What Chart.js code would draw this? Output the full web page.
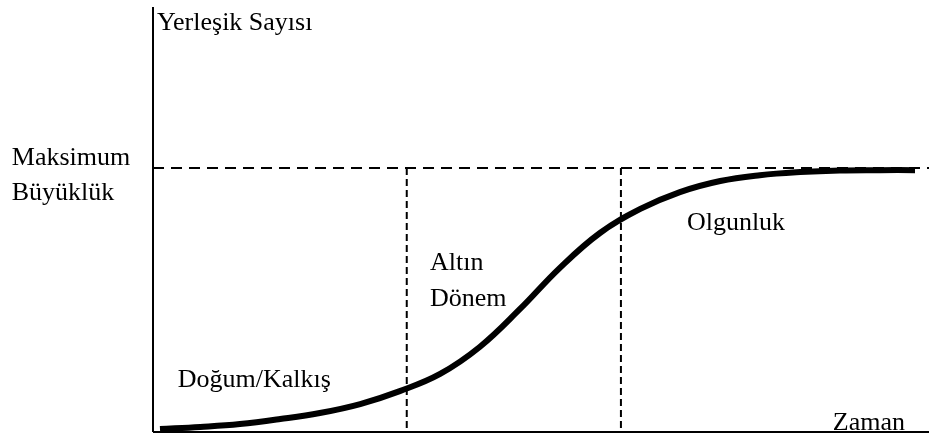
<!DOCTYPE html>
<html lang="tr">
<head>
<meta charset="utf-8">
<script src="https://cdn.jsdelivr.net/npm/chart.js@4.4.0/dist/chart.umd.min.js"></script>
<style>
  html, body { margin: 0; padding: 0; background: #fff; }
  #wrap { width: 929px; height: 434px; position: relative; }
</style>
</head>
<body>
<div id="wrap"><canvas id="lifeCycle"></canvas></div>
<script>
// S-curve of the settlement count over time (x: time units 0-100, y: count, 100 = maximum size)
const timeValues  = [0.9, 6.1, 11.2, 16.4, 21.5, 26.7, 31.8, 37.0, 42.1, 47.3, 52.4, 57.6, 62.8, 67.9, 73.1, 78.2, 83.4, 88.5, 93.7, 98.2];
const countValues = [1.1, 1.9, 3.0, 4.9, 7.2, 10.6, 15.5, 22.0, 32.2, 46.6, 62.1, 75.4, 84.5, 90.9, 95.1, 97.3, 98.5, 99.1, 99.2, 99.2];

// phase boundaries on the time axis and the maximum size level
const phaseBounds = [32.7, 60.3];
const maxSize = 100;
const xRange = [0, 100];
const yRange = [0, 161];

// texts
const labelTexts = ["Yerleşik Sayısı", "Maksimum", "Büyüklük", "Doğum/Kalkış", "Altın", "Dönem", "Olgunluk", "Zaman"];
// anchor (left, baseline) of each text in data units
const labelX = [0.5, -18.2, -18.2, 3.2, 35.7, 35.7, 68.8, 87.6];
const labelY = [152.3, 101.1, 87.9, 17.0, 61.4, 47.7, 76.5, 0.8];

const curve = timeValues.map((t, i) => ({ x: t, y: countValues[i] }));

// plain line dataset helper
function segment(points, width, dash) {
    return {
        data: points,
        borderColor: "#000",
        borderWidth: width,
        borderDash: dash,
        pointRadius: 0,
        clip: false,
        tension: 0,
    };
}

const textPlugin = {
    id: "phaseLabels",
    afterDatasetsDraw(chart) {
        const { ctx, scales } = chart;
        ctx.save();
        ctx.fillStyle = "#000";
        ctx.font = "26px 'Liberation Serif', 'Times New Roman', serif";
        ctx.textAlign = "left";
        ctx.textBaseline = "alphabetic";
        labelTexts.forEach((txt, i) => {
            ctx.fillText(txt, scales.x.getPixelForValue(labelX[i]), scales.y.getPixelForValue(labelY[i]));
        });
        ctx.restore();
    },
};

const ctx = document.getElementById("lifeCycle").getContext("2d");
new Chart(ctx, {
    type: "line",
    data: {
        datasets: [
            {
                data: curve,
                borderColor: "#000",
                borderWidth: 6,
                pointRadius: 0,
                tension: 0.4,
                clip: false,
            },
            // axes
            segment([{ x: xRange[0], y: 0 }, { x: xRange[1], y: 0 }], 2, []),
            segment([{ x: 0, y: yRange[0] }, { x: 0, y: yRange[1] }], 2, []),
            // maximum size level
            segment([{ x: xRange[0], y: maxSize }, { x: xRange[1], y: maxSize }], 2, [11, 7]),
            // phase boundaries
            ...phaseBounds.map(b => segment([{ x: b, y: maxSize }, { x: b, y: 0 }], 2, [7, 4])),
        ],
    },
    options: {
        responsive: true,
        maintainAspectRatio: false,
        animation: false,
        layout: {
            padding: { left: 153, right: 0, top: 7, bottom: 2 },
        },
        scales: {
            x: { type: "linear", min: xRange[0], max: xRange[1], display: false },
            y: { type: "linear", min: yRange[0], max: yRange[1], display: false },
        },
        plugins: {
            legend: { display: false },
            tooltip: { enabled: false },
        },
    },
    plugins: [textPlugin],
});
</script>
</body>
</html>
